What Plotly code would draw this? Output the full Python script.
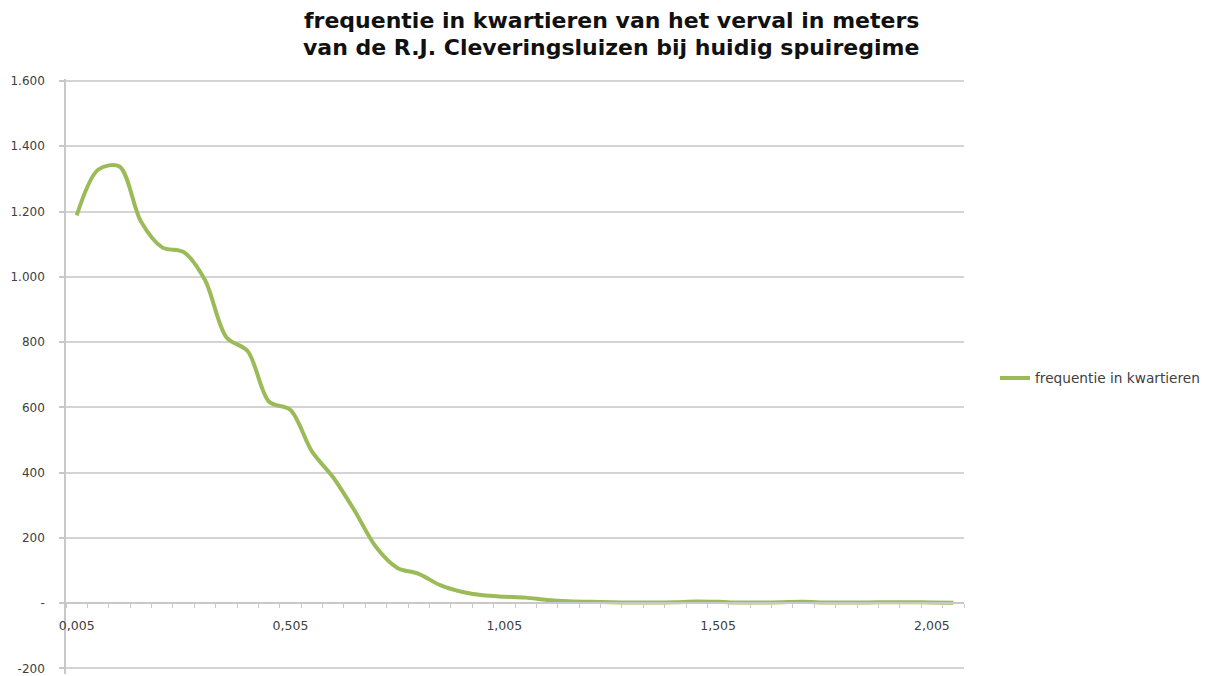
import plotly.graph_objects as go

title_lines = ["frequentie in kwartieren van het verval in meters",
               "van de R.J. Cleveringsluizen bij huidig spuiregime"]
series_name = "frequentie in kwartieren"

verval = [0.005, 0.055, 0.105, 0.155, 0.205, 0.255, 0.305, 0.355, 0.405, 0.455,
          0.505, 0.555, 0.605, 0.655, 0.705, 0.755, 0.805, 0.855, 0.905, 0.955,
          1.005, 1.055, 1.105, 1.155, 1.205, 1.255, 1.305, 1.355, 1.405, 1.455,
          1.505, 1.555, 1.605, 1.655, 1.705, 1.755, 1.805, 1.855, 1.905, 1.955,
          2.005, 2.055]
frequentie = [1188, 1328, 1338, 1170, 1090, 1076, 990, 815, 772, 617,
              592, 465, 385, 283, 172, 108, 90, 55, 35, 24,
              20, 17, 10, 6, 4, 3, 2, 2, 3, 5,
              4, 2, 2, 3, 4, 2, 2, 2, 3, 3,
              2, 1]

x_tickvals = [0.005, 0.505, 1.005, 1.505, 2.005]
x_ticktext = ["0,005", "0,505", "1,005", "1,505", "2,005"]
y_tickvals = [-200, 0, 200, 400, 600, 800, 1000, 1200, 1400, 1600]
y_ticktext = ["-200", "-", "200", "400", "600", "800", "1.000", "1.200", "1.400", "1.600"]

W, H = 1209, 676
# pixel positions of y = 1600 and y = -200
Y_TOP_PX, Y_BOT_PX = 81, 668
Y_MIN, Y_MAX = -217, 1606
px_per_unit = (Y_BOT_PX - Y_TOP_PX) / 1800
MT = Y_TOP_PX - (Y_MAX - 1600) * px_per_unit
MB = max(0.0, H - (Y_BOT_PX + (-200 - Y_MIN) * px_per_unit))
ML, MR = 66, 245
plot_w = W - ML - MR
plot_h = H - MT - MB

grey = "#c8c8c8"
label_col = "#404040"
font_fam = "'DejaVu Sans', 'Open Sans', sans-serif"


def px_to_paper_x(px):
    return (px - ML) / plot_w


def px_to_paper_y(py):
    return (H - MB - py) / plot_h


fig = go.Figure()
fig.add_trace(go.Scatter(
    x=verval, y=frequentie, mode="lines", name=series_name,
    line=dict(color="#9bbb59", width=4, shape="spline", smoothing=0.9),
    showlegend=True,
))

title_font = dict(family=font_fam, size=22, color="#111111", weight="bold")
for text, cy in zip(title_lines, [21, 48]):
    fig.add_annotation(
        text=text, xref="paper", yref="paper",
        x=px_to_paper_x(611), y=px_to_paper_y(cy),
        xanchor="center", yanchor="middle", showarrow=False,
        font=title_font,
    )

fig.update_layout(
    width=W, height=H,
    paper_bgcolor="white", plot_bgcolor="white",
    margin=dict(l=ML, r=MR, t=MT, b=MB, autoexpand=False),
    font=dict(family=font_fam, size=12, color=label_col),
    showlegend=True,
    legend=dict(
        x=px_to_paper_x(995), xanchor="left", y=px_to_paper_y(378), yanchor="middle",
        font=dict(family=font_fam, size=13.7, color=label_col),
        bgcolor="rgba(0,0,0,0)", itemwidth=30,
    ),
    xaxis=dict(
        range=[-0.02, 2.08],
        anchor="free", position=(0 - Y_MIN) / (Y_MAX - Y_MIN),
        tickmode="array", tickvals=x_tickvals, ticktext=x_ticktext,
        ticks="", showgrid=False, zeroline=False,
        showline=True, linecolor=grey, linewidth=1.5,
        tickfont=dict(family=font_fam, size=12.5, color=label_col),
        minor=dict(ticks="outside", tick0=-0.02, dtick=0.05, ticklen=4,
                   tickcolor=grey, tickwidth=1, showgrid=False),
        ticklabelstandoff=11,
    ),
    yaxis=dict(
        range=[Y_MIN, Y_MAX],
        tickmode="array", tickvals=y_tickvals, ticktext=y_ticktext,
        ticks="outside", ticklen=5, tickcolor=grey, tickwidth=1.5,
        showgrid=True, gridcolor="#d4d4d4", gridwidth=1.5,
        zeroline=False,
        showline=True, linecolor=grey, linewidth=1.5,
        tickfont=dict(family=font_fam, size=12, color=label_col),
        ticklabelstandoff=12, ticklabeloverflow="allow",
    ),
)

fig.write_html("out.html", config={"displayModeBar": False},
               post_script="document.body.style.margin='0';")
